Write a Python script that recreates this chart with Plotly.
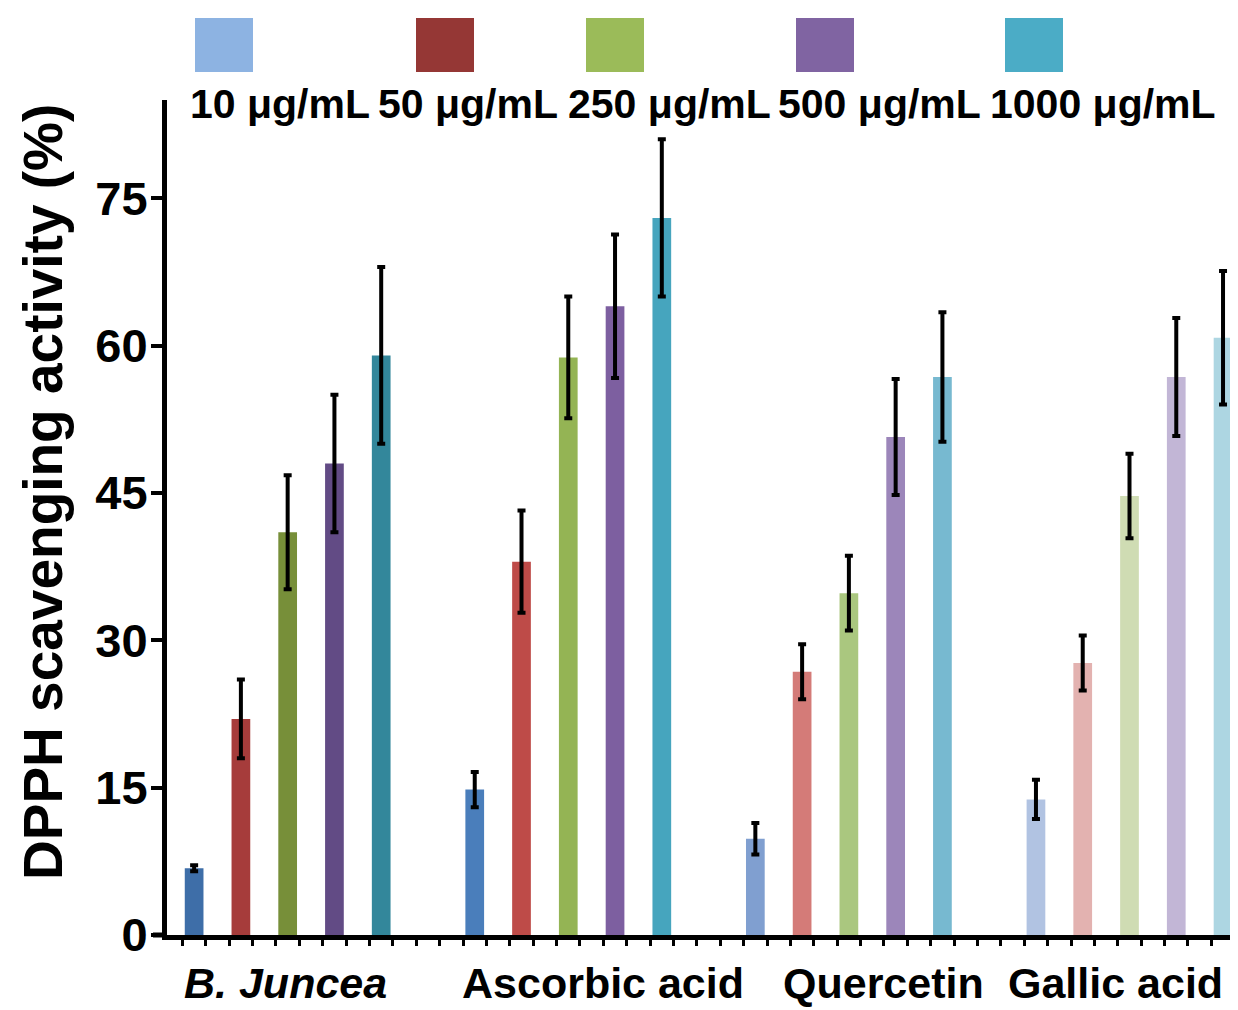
import plotly.graph_objects as go

# ---------------- data ----------------
groups = ["B. Juncea", "Ascorbic acid", "Quercetin", "Gallic acid"]
concentrations = ["10 μg/mL", "50 μg/mL", "250 μg/mL", "500 μg/mL", "1000 μg/mL"]

# values per concentration, across the four groups
val_10 = [6.8, 14.8, 9.8, 13.8]
val_50 = [22.0, 38.0, 26.8, 27.7]
val_250 = [41.0, 58.8, 34.8, 44.7]
val_500 = [48.0, 64.0, 50.7, 56.8]
val_1000 = [59.0, 73.0, 56.8, 60.8]

err_10 = [0.3, 1.8, 1.6, 2.0]
err_50 = [4.0, 5.2, 2.8, 2.8]
err_250 = [5.8, 6.2, 3.8, 4.3]
err_500 = [7.0, 7.3, 5.9, 6.0]
err_1000 = [9.0, 8.0, 6.6, 6.8]

values = [val_10, val_50, val_250, val_500, val_1000]
errors = [err_10, err_50, err_250, err_500, err_1000]

# colours: each concentration has a shade per group (dark -> light), legend swatch colour
colors_10 = ["#3e6ea8", "#4a7ebb", "#809fd0", "#b1c3e2"]
colors_50 = ["#a63c3b", "#be4b48", "#d47b78", "#e3b2b0"]
colors_250 = ["#778f39", "#94b454", "#aac77f", "#cfdcb3"]
colors_500 = ["#624b85", "#7d5fa0", "#9c86ba", "#c2b6d6"]
colors_1000 = ["#33879b", "#46a5be", "#77b9d0", "#add6e2"]
bar_colors = [colors_10, colors_50, colors_250, colors_500, colors_1000]
legend_colors = ["#8db3e2", "#953735", "#9bbb59", "#8064a2", "#4bacc6"]

yticks = [0, 15, 30, 45, 60, 75]
y_title = "DPPH scavenging activity (%)"

# ---------------- layout geometry ----------------
# the page body has an 8px margin, so the figure starts at (8, 8)
OFF = 8
W, H = 1238 - OFF, 1010 - OFF
ML, MR, MT, MB = 167 - OFF, 0, 100 - OFF, 1010 - 935
PW, PH = W - ML - MR, H - MT - MB

def px(xp):
    # screen pixel -> paper x
    return (xp - OFF - ML) / PW

def py(yp):
    # screen pixel -> paper y
    return (H - MB - (yp - OFF)) / PH

FONT = "Liberation Sans, Arial, Helvetica, sans-serif"
group_gap = 6

fig = go.Figure()
for i, name in enumerate(concentrations):
    xs = [g * group_gap + i for g in range(len(groups))]
    fig.add_trace(go.Bar(
        x=xs, y=values[i], name=name, width=0.4,
        marker=dict(color=bar_colors[i], line=dict(width=0)),
        error_y=dict(type="data", array=errors[i], visible=True,
                     color="black", thickness=4, width=4),
        showlegend=False,
    ))

# group labels
group_label_x = [1.95, 8.74, 14.75, 19.7]
for g, lab in enumerate(groups):
    text = f"<b><i>{lab}</i></b>" if g == 0 else f"<b>{lab}</b>"
    fig.add_annotation(x=group_label_x[g], xref="x", y=py(1009), yref="paper",
                       text=text, showarrow=False, xanchor="center", yanchor="bottom",
                       font=dict(family=FONT, size=43, color="black"))

# y-axis title placed as rotated text
fig.add_annotation(x=px(43), xref="paper", y=py(492), yref="paper",
                   text=f"<b>{y_title}</b>", textangle=-90, showarrow=False,
                   xanchor="center", yanchor="middle",
                   font=dict(family=FONT, size=55, color="black"))

# custom legend: swatch above text
sw_left = [195, 416, 586, 796, 1005]
txt_left = [188, 376, 566, 776, 988]
for i, name in enumerate(concentrations):
    fig.add_shape(type="rect", xref="paper", yref="paper",
                  x0=px(sw_left[i]), x1=px(sw_left[i] + 58),
                  y0=py(72), y1=py(18),
                  fillcolor=legend_colors[i], line=dict(width=0))
    fig.add_annotation(x=px(txt_left[i]), xref="paper", y=py(104), yref="paper",
                       text=f"<b>{name}</b>", showarrow=False,
                       xanchor="left", yanchor="middle",
                       font=dict(family=FONT, size=41, color="black"))

# short extension of the x-axis line to the left of the y-axis
fig.add_shape(type="line", xref="paper", yref="paper",
              x0=px(153), x1=px(167), y0=0, y1=0,
              line=dict(color="black", width=5))

fig.update_layout(
    width=W, height=H,
    margin=dict(l=ML, r=MR, t=MT, b=MB, pad=0),
    paper_bgcolor="white", plot_bgcolor="white",
    barmode="overlay",
    font=dict(family=FONT, color="black"),
    xaxis=dict(range=[-0.58, 22.32], showgrid=False, zeroline=False,
               showline=True, linecolor="black", linewidth=5,
               ticks="outside", ticklen=6, tickwidth=3, tickcolor="black",
               tick0=0.25, dtick=0.5, showticklabels=False),
    yaxis=dict(range=[0, 85], showgrid=False, zeroline=False,
               showline=True, linecolor="black", linewidth=5,
               ticks="outside", ticklen=11, tickwidth=4, tickcolor="black",
               tickvals=yticks, ticktext=[f"<b>{t}</b>" for t in yticks],
               tickfont=dict(family=FONT, size=47, color="black"),
               ticklabelstandoff=-6),
)

fig.write_html("out.html")
